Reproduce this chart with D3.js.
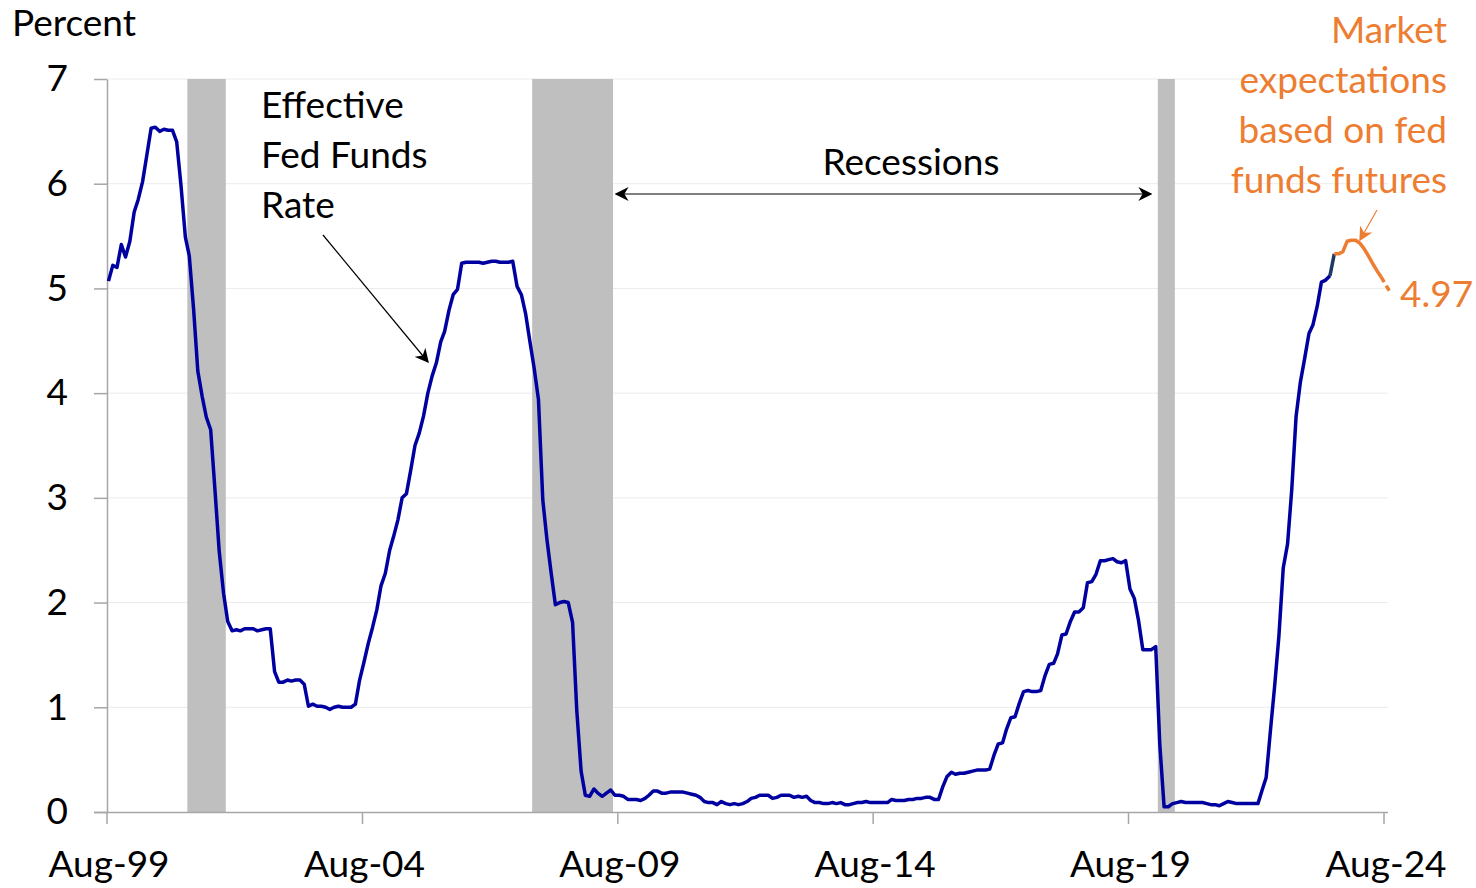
<!DOCTYPE html>
<html>
<head>
<meta charset="utf-8">
<script src="https://cdn.jsdelivr.net/npm/d3@7"></script>
<style>
  html, body { margin: 0; padding: 0; background: #ffffff; }
  svg { display: block; font-family: Lato, "Noto Sans", sans-serif; }
</style>
</head>
<body>
<svg id="chart" width="1476" height="888"></svg>
<script>
// Effective federal funds rate, monthly averages, Aug 1999 – Jul 2023 (percent)
const seriesStart = [1999, 7]; // year, zero-based month
const effectiveRate = [
  5.07, 5.22, 5.20, 5.42, 5.30,                                          // 1999
  5.45, 5.73, 5.85, 6.02, 6.27, 6.53, 6.54, 6.50, 6.52, 6.51, 6.51, 6.40, // 2000
  5.98, 5.49, 5.31, 4.80, 4.21, 3.97, 3.77, 3.65, 3.07, 2.49, 2.09, 1.82, // 2001
  1.73, 1.74, 1.73, 1.75, 1.75, 1.75, 1.73, 1.74, 1.75, 1.75, 1.34, 1.24, // 2002
  1.24, 1.26, 1.25, 1.26, 1.26, 1.22, 1.01, 1.03, 1.01, 1.01, 1.00, 0.98, // 2003
  1.00, 1.01, 1.00, 1.00, 1.00, 1.03, 1.26, 1.43, 1.61, 1.76, 1.93, 2.16, // 2004
  2.28, 2.50, 2.63, 2.79, 3.00, 3.04, 3.26, 3.50, 3.62, 3.78, 4.00, 4.16, // 2005
  4.29, 4.49, 4.59, 4.79, 4.94, 4.99, 5.24, 5.25, 5.25, 5.25, 5.25, 5.24, // 2006
  5.25, 5.26, 5.26, 5.25, 5.25, 5.25, 5.26, 5.02, 4.94, 4.76, 4.49, 4.24, // 2007
  3.94, 2.98, 2.61, 2.28, 1.98, 2.00, 2.01, 2.00, 1.81, 0.97, 0.39, 0.16, // 2008
  0.15, 0.22, 0.18, 0.15, 0.18, 0.21, 0.16, 0.16, 0.15, 0.12, 0.12, 0.12, // 2009
  0.11, 0.13, 0.16, 0.20, 0.20, 0.18, 0.18, 0.19, 0.19, 0.19, 0.19, 0.18, // 2010
  0.17, 0.16, 0.14, 0.10, 0.09, 0.09, 0.07, 0.10, 0.08, 0.07, 0.08, 0.07, // 2011
  0.08, 0.10, 0.13, 0.14, 0.16, 0.16, 0.16, 0.13, 0.14, 0.16, 0.16, 0.16, // 2012
  0.14, 0.15, 0.14, 0.15, 0.11, 0.09, 0.09, 0.08, 0.08, 0.09, 0.08, 0.09, // 2013
  0.07, 0.07, 0.08, 0.09, 0.09, 0.10, 0.09, 0.09, 0.09, 0.09, 0.09, 0.12, // 2014
  0.11, 0.11, 0.11, 0.12, 0.12, 0.13, 0.13, 0.14, 0.14, 0.12, 0.12, 0.24, // 2015
  0.34, 0.38, 0.36, 0.37, 0.37, 0.38, 0.39, 0.40, 0.40, 0.40, 0.41, 0.54, // 2016
  0.65, 0.66, 0.79, 0.90, 0.91, 1.04, 1.15, 1.16, 1.15, 1.15, 1.16, 1.30, // 2017
  1.41, 1.42, 1.51, 1.69, 1.70, 1.82, 1.91, 1.91, 1.95, 2.19, 2.20, 2.27, // 2018
  2.40, 2.40, 2.41, 2.42, 2.39, 2.38, 2.40, 2.13, 2.04, 1.83, 1.55, 1.55, // 2019
  1.55, 1.58, 0.65, 0.05, 0.05, 0.08, 0.09, 0.10, 0.09, 0.09, 0.09, 0.09, // 2020
  0.09, 0.08, 0.07, 0.07, 0.06, 0.08, 0.10, 0.09, 0.08, 0.08, 0.08, 0.08, // 2021
  0.08, 0.08, 0.20, 0.33, 0.77, 1.21, 1.68, 2.33, 2.56, 3.08, 3.78, 4.10, // 2022
  4.33, 4.57, 4.65, 4.83, 5.06, 5.08, 5.12                                // 2023
];

// Path implied by fed funds futures, Aug 2023 – Sep 2024 (percent)
const futuresStart = [2023, 7];
const futuresRate = [5.33, 5.33, 5.35, 5.45, 5.46, 5.46, 5.43, 5.38, 5.31, 5.24, 5.17, 5.11, 5.04, 4.97];
const futuresSolidCount = 12; // remaining months are drawn dashed

// NBER recession shading
const recessionStart = ["2001-03-01", "2007-12-01", "2020-03-01"];
const recessionEnd   = ["2001-12-01", "2009-07-01", "2020-07-01"];

// Axis ticks
const yTicks = [0, 1, 2, 3, 4, 5, 6, 7];
const xTickYears = [1999, 2004, 2009, 2014, 2019, 2024];

const svg = d3.select("#chart");
const FONT = 37;
const BLUE = "#0000a0";
const ORANGE = "#ed7d31";

const x = d3.scaleTime()
  .domain([new Date(1999, 7, 1), new Date(2024, 7, 1)])
  .range([106.5, 1383.5]);
const y = d3.scaleLinear().domain([0, 7]).range([812, 79]);

const monthDate = (start, i) => new Date(start[0], start[1] + i, 15);
const rateData = effectiveRate.map((v, i) => ({ date: monthDate(seriesStart, i), value: v }));
const futData = futuresRate.map((v, i) => ({ date: monthDate(futuresStart, i), value: v }));

// Gridlines
svg.append("g")
  .selectAll("line")
  .data(yTicks.filter(t => t > 0))
  .join("line")
  .attr("x1", 107).attr("x2", 1388)
  .attr("y1", d => y(d)).attr("y2", d => y(d))
  .attr("stroke", "#ebebeb").attr("stroke-width", 1);

// Recession bands
const parse = d3.timeParse("%Y-%m-%d");
svg.append("g")
  .selectAll("rect")
  .data(recessionStart.map((s, i) => [parse(s), parse(recessionEnd[i])]))
  .join("rect")
  .attr("x", d => x(d[0]))
  .attr("width", d => x(d[1]) - x(d[0]))
  .attr("y", y(7))
  .attr("height", y(0) - y(7))
  .attr("fill", "#bfbfbf");

// Y axis
const yAxis = svg.append("g")
  .attr("transform", "translate(107,0)")
  .call(d3.axisLeft(y).tickValues(yTicks).tickFormat(d3.format("d")).tickSize(13).tickSizeOuter(0).tickPadding(26));
yAxis.select(".domain").attr("stroke", "#a6a6a6").attr("stroke-width", 1.5);
yAxis.selectAll(".tick line").attr("stroke", "#a6a6a6").attr("stroke-width", 1.5);
yAxis.selectAll(".tick text")
  .attr("font-family", "Lato, sans-serif").attr("font-size", FONT).attr("fill", "#000");

// X axis
const xAxis = svg.append("g")
  .attr("transform", "translate(0,812)")
  .call(d3.axisBottom(x)
    .tickValues(xTickYears.map(yr => new Date(yr, 7, 1)))
    .tickFormat(d3.timeFormat("%b-%y"))
    .tickSize(12).tickSizeOuter(0));
xAxis.select(".domain").attr("d", "M94,0.5H1388").attr("stroke", "#a6a6a6").attr("stroke-width", 1.5);
xAxis.selectAll(".tick line").attr("stroke", "#a6a6a6").attr("stroke-width", 1.5);
xAxis.selectAll(".tick text")
  .attr("font-family", "Lato, sans-serif").attr("font-size", FONT).attr("fill", "#000")
  .attr("y", 65).attr("dy", null).attr("dx", 2);

// Lines
const line = d3.line().x(d => x(d.date)).y(d => y(d.value));

svg.append("path")
  .datum(rateData)
  .attr("d", line)
  .attr("fill", "none").attr("stroke", BLUE).attr("stroke-width", 3.5)
  .attr("stroke-linejoin", "round");

// connector from last observed month to first futures month
svg.append("path")
  .datum([rateData[rateData.length - 1], futData[0]])
  .attr("d", line)
  .attr("fill", "none").attr("stroke", "#1f3864").attr("stroke-width", 3.5);

svg.append("path")
  .datum(futData.slice(0, futuresSolidCount))
  .attr("d", line)
  .attr("fill", "none").attr("stroke", ORANGE).attr("stroke-width", 3.5)
  .attr("stroke-linejoin", "round");

svg.append("path")
  .datum(futData.slice(futuresSolidCount - 1))
  .attr("d", line)
  .attr("fill", "none").attr("stroke", ORANGE).attr("stroke-width", 3.5)
  .attr("stroke-dasharray", "6,4");

// Arrow markers
const defs = svg.append("defs");
function addMarker(id, color, size) {
  defs.append("marker")
    .attr("id", id)
    .attr("viewBox", "0 0 10 10")
    .attr("refX", 9).attr("refY", 5)
    .attr("markerWidth", size).attr("markerHeight", size)
    .attr("markerUnits", "userSpaceOnUse")
    .attr("orient", "auto-start-reverse")
    .append("path")
    .attr("d", "M0,0 L10,5 L0,10 L3,5 Z")
    .attr("fill", color);
}
addMarker("arrowBlack", "#000", 14);
addMarker("arrowOrange", ORANGE, 14);

// Text annotations
const text = (xp, yp, s, opts = {}) => svg.append("text")
  .attr("x", xp).attr("y", yp)
  .attr("font-size", opts.size || FONT)
  .attr("fill", opts.color || "#000")
  .attr("text-anchor", opts.anchor || "start")
  .text(s);

text(12, 36, "Percent");

text(261, 118, "Effective");
text(261, 168, "Fed Funds");
text(261, 218, "Rate");
svg.append("line")
  .attr("x1", 323).attr("y1", 235).attr("x2", 428).attr("y2", 362)
  .attr("stroke", "#000").attr("stroke-width", 1.2)
  .attr("marker-end", "url(#arrowBlack)");

text(911, 175, "Recessions", { anchor: "middle" });
svg.append("line")
  .attr("x1", 616).attr("y1", 194).attr("x2", 1151).attr("y2", 194)
  .attr("stroke", "#000").attr("stroke-width", 1.2)
  .attr("marker-start", "url(#arrowBlack)")
  .attr("marker-end", "url(#arrowBlack)");

["Market", "expectations", "based on fed", "funds futures"].forEach((s, i) =>
  text(1447, 43 + i * 50, s, { anchor: "end", color: ORANGE }));
svg.append("line")
  .attr("x1", 1377).attr("y1", 210).attr("x2", 1360).attr("y2", 240)
  .attr("stroke", ORANGE).attr("stroke-width", 1.2)
  .attr("marker-end", "url(#arrowOrange)");

text(1400, 307, d3.format(".2f")(futuresRate[futuresRate.length - 1]), { color: ORANGE });
</script>
</body>
</html>
